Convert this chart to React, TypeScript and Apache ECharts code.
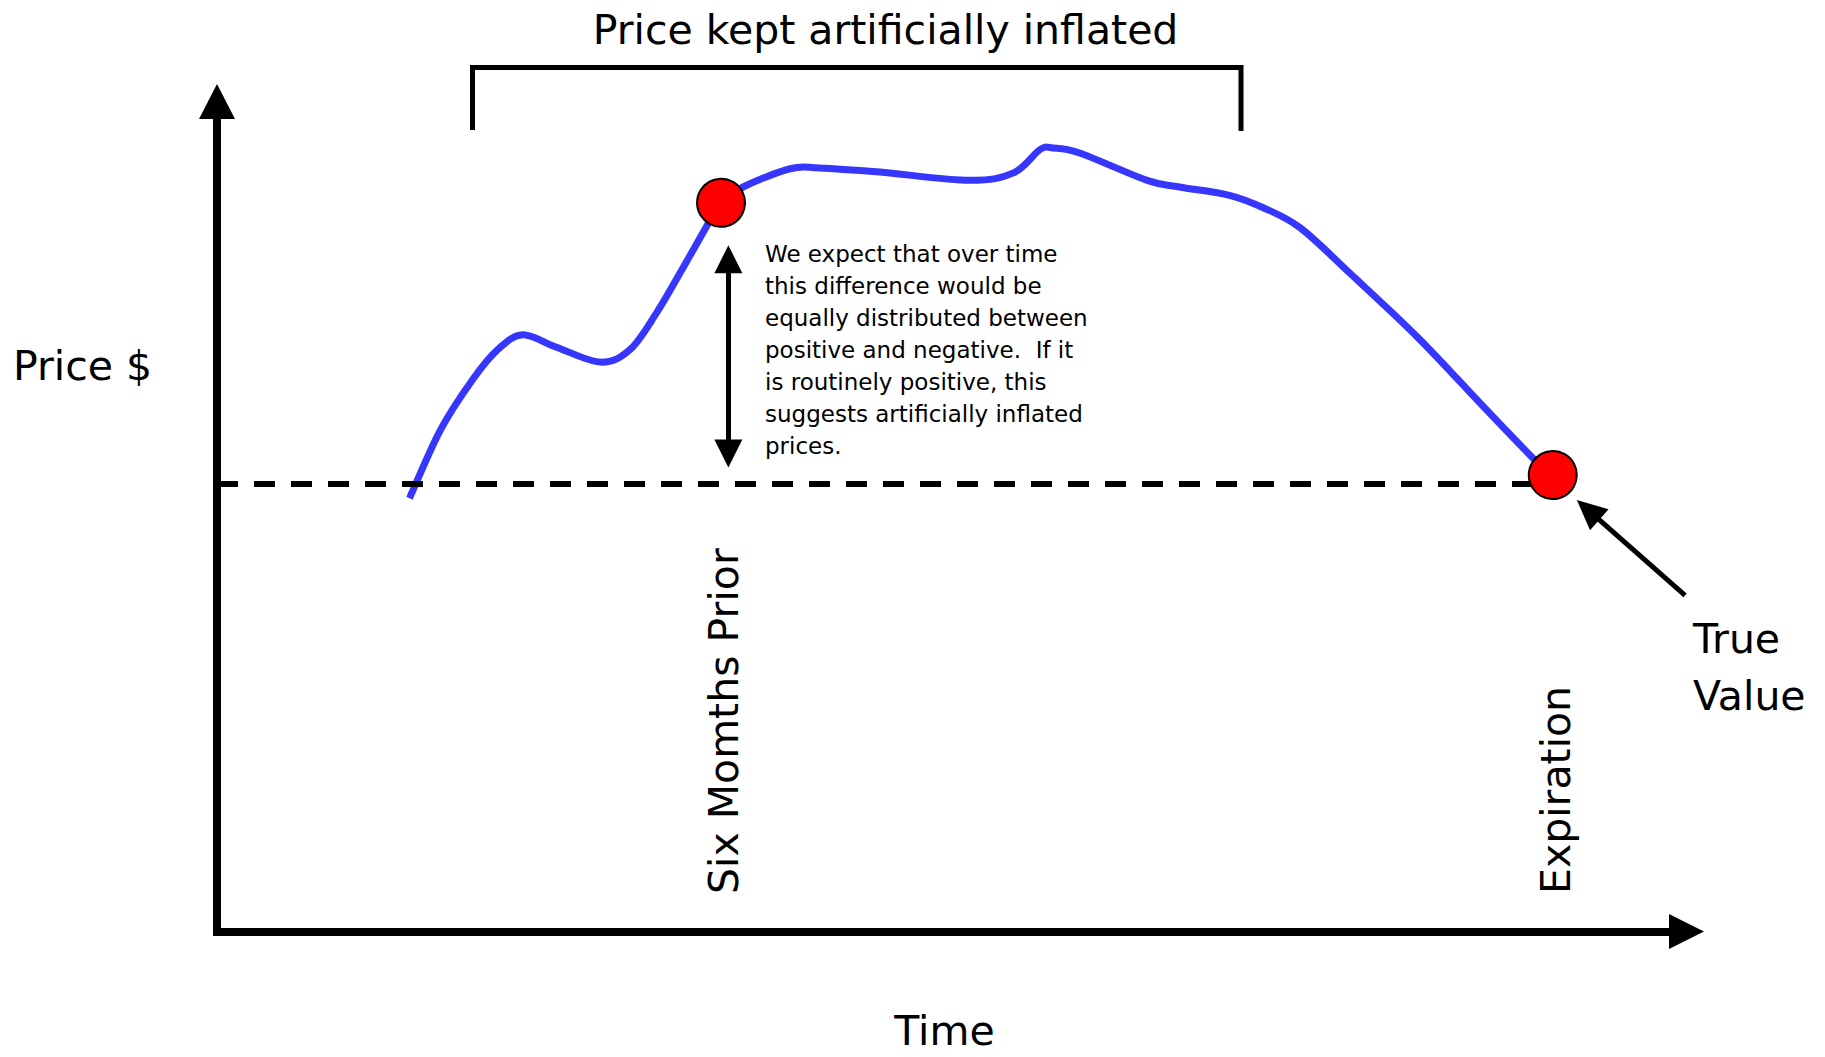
import React, { useEffect, useRef } from "react";
import * as echarts from "echarts";

// ---- data (time units 0..100, price units 0..100) ----
const timeValues = [
  13.1, 15.2, 17.4, 19.1, 20.8, 23.1, 26.1, 28.1, 29.9, 31.5, 33.3, 34.3, 35.8,
  39.0, 41.0, 45.1, 51.2, 54.2, 56.0, 56.9, 58.7, 63.3, 65.5, 68.9, 71.2, 73.7,
  77.1, 81.7, 86.2, 89.8, 90.9,
];
const priceValues = [
  52.2, 60.4, 66.5, 70.1, 71.9, 70.4, 68.6, 70.1, 74.5, 79.3, 84.9, 87.8, 89.7,
  91.9, 92.0, 91.5, 90.5, 91.4, 94.2, 94.4, 93.8, 90.5, 89.7, 88.7, 87.2, 84.8,
  79.3, 71.6, 63.2, 56.6, 55.0,
];
const trueValue = 54.0;
const dashedLineEnd = 90.0;
const sixMonthsPrior = [34.3, 87.8];
const expirationPoint = [90.9, 55.0];
const spreadArrowX = 34.8;
const spreadArrowRange = [57.6, 81.0];
const pointerFrom = [99.9, 40.5];
const pointerTo = [93.3, 50.8];

const titleText = "Price kept artificially inflated";
const yAxisTitle = "Price $";
const xAxisTitle = "Time";
const sixMonthsLabel = "Six Momths Prior";
const expirationLabel = "Expiration";
const trueValueLabel = "True\nValue";
const noteLines = [
  "We expect that over time",
  "this difference would be",
  "equally distributed between",
  "positive and negative.  If it",
  "is routinely positive, this",
  "suggests artificially inflated",
  "prices.",
];

const FONT = "DejaVu Sans";

// Catmull-Rom spline through pixel points -> SVG path data
function splinePath(pts: number[][]): string {
  if (pts.length < 2) return "";
  let d = `M${pts[0][0]},${pts[0][1]}`;
  for (let i = 0; i < pts.length - 1; i++) {
    const p0 = pts[i - 1] || pts[i];
    const p1 = pts[i];
    const p2 = pts[i + 1];
    const p3 = pts[i + 2] || p2;
    const c1x = p1[0] + (p2[0] - p0[0]) / 6;
    const c1y = p1[1] + (p2[1] - p0[1]) / 6;
    const c2x = p2[0] - (p3[0] - p1[0]) / 6;
    const c2y = p2[1] - (p3[1] - p1[1]) / 6;
    d += ` C${c1x},${c1y} ${c2x},${c2y} ${p2[0]},${p2[1]}`;
  }
  return d;
}

export default function App() {
  const ref = useRef<HTMLDivElement>(null);

  useEffect(() => {
    if (!ref.current) return;
    const chart = echarts.init(ref.current, undefined, { renderer: "svg" });

    const curve = timeValues.map((t, i) => [t, priceValues[i]]);

    const axisCommon = {
      axisTick: { show: false },
      axisLabel: { show: false },
      splitLine: { show: false },
    };

    chart.setOption({
      animation: false,
      backgroundColor: "#ffffff",
      grid: { left: 217, right: 138.5, top: 101.5, bottom: 125.5 },
      xAxis: {
        type: "value",
        min: 0,
        max: 100,
        ...axisCommon,
        axisLine: {
          show: true,
          onZero: false,
          symbol: ["none", "triangle"],
          symbolSize: [35, 35],
          lineStyle: { color: "#000", width: 8, cap: "square" },
        },
      },
      yAxis: {
        type: "value",
        min: 0,
        max: 100,
        ...axisCommon,
        axisLine: {
          show: true,
          onZero: false,
          symbol: ["none", "triangle"],
          symbolSize: [36, 35],
          lineStyle: { color: "#000", width: 8, cap: "square" },
        },
      },
      series: [
        {
          // carries the annotation lines (true value, spread arrow, pointer)
          type: "line",
          name: "Annotations",
          data: curve,
          symbol: "none",
          silent: true,
          z: 2,
          lineStyle: { opacity: 0, width: 0 },
          markLine: {
            silent: true,
            symbol: "none",
            label: { show: false },
            emphasis: { disabled: true },
            data: [
              [
                {
                  coord: [0, trueValue],
                  symbol: "none",
                  lineStyle: { color: "#000", width: 6, type: [21, 16], cap: "butt", opacity: 1 },
                },
                { coord: [dashedLineEnd, trueValue], symbol: "none" },
              ],
              [
                {
                  coord: [spreadArrowX, spreadArrowRange[0]],
                  symbol: "triangle",
                  symbolSize: [28, 28],
                  lineStyle: { color: "#000", width: 5, type: "solid", opacity: 1 },
                },
                {
                  coord: [spreadArrowX, spreadArrowRange[1]],
                  symbol: "triangle",
                  symbolSize: [28, 28],
                },
              ],
              [
                {
                  coord: pointerFrom,
                  symbol: "none",
                  lineStyle: { color: "#000", width: 5, type: "solid", opacity: 1 },
                },
                {
                  coord: pointerTo,
                  symbol: "triangle",
                  symbolSize: [28, 30],
                },
              ],
            ],
          },
        },
        {
          type: "custom",
          name: "Price",
          data: curve,
          encode: { x: 0, y: 1 },
          z: 3,
          silent: true,
          renderItem: (params: any, api: any) => {
            if (params.dataIndex !== 0) return null;
            const pts = curve.map((p) => api.coord(p));
            return {
              type: "path",
              shape: { pathData: splinePath(pts) },
              style: { stroke: "#3636FF", lineWidth: 7, fill: "none" },
            };
          },
        },
        {
          type: "scatter",
          name: "Key points",
          data: [sixMonthsPrior, expirationPoint],
          symbol: "circle",
          symbolSize: 48,
          z: 5,
          itemStyle: { color: "#FF0000", borderColor: "#000", borderWidth: 2, opacity: 1 },
        },
      ],
      graphic: [
        {
          type: "polyline",
          silent: true,
          shape: {
            points: [
              [472.5, 130],
              [472.5, 67.5],
              [1241, 67.5],
              [1241, 131],
            ],
          },
          style: { stroke: "#000", lineWidth: 5, fill: "none" },
        },
        {
          type: "text",
          x: 885.5,
          y: 30,
          style: {
            text: titleText,
            fontFamily: FONT,
            fontSize: 41,
            fill: "#000",
            align: "center",
            verticalAlign: "middle",
          },
        },
        {
          type: "text",
          x: 13,
          y: 366,
          style: {
            text: yAxisTitle,
            fontFamily: FONT,
            fontSize: 41,
            fill: "#000",
            align: "left",
            verticalAlign: "middle",
          },
        },
        {
          type: "text",
          x: 944.5,
          y: 1031,
          style: {
            text: xAxisTitle,
            fontFamily: FONT,
            fontSize: 41,
            fill: "#000",
            align: "center",
            verticalAlign: "middle",
          },
        },
        {
          type: "text",
          x: 724,
          y: 894,
          rotation: Math.PI / 2,
          style: {
            text: sixMonthsLabel,
            fontFamily: FONT,
            fontSize: 41,
            fill: "#000",
            align: "left",
            verticalAlign: "middle",
          },
        },
        {
          type: "text",
          x: 1556,
          y: 894,
          rotation: Math.PI / 2,
          style: {
            text: expirationLabel,
            fontFamily: FONT,
            fontSize: 41,
            fill: "#000",
            align: "left",
            verticalAlign: "middle",
          },
        },
        {
          type: "text",
          x: 1693,
          y: 610,
          style: {
            text: trueValueLabel,
            fontFamily: FONT,
            fontSize: 41,
            lineHeight: 57,
            fill: "#000",
            align: "left",
            verticalAlign: "top",
          },
        },
        {
          type: "text",
          x: 765,
          y: 238,
          style: {
            text: noteLines.join("\n"),
            fontFamily: FONT,
            fontSize: 23,
            lineHeight: 32,
            fill: "#000",
            align: "left",
            verticalAlign: "top",
          },
        },
      ],
    });

    return () => chart.dispose();
  }, []);

  return (
    <div
      ref={ref}
      style={{ position: "fixed", left: 0, top: 0, width: 1825, height: 1057, background: "#fff" }}
    />
  );
}
